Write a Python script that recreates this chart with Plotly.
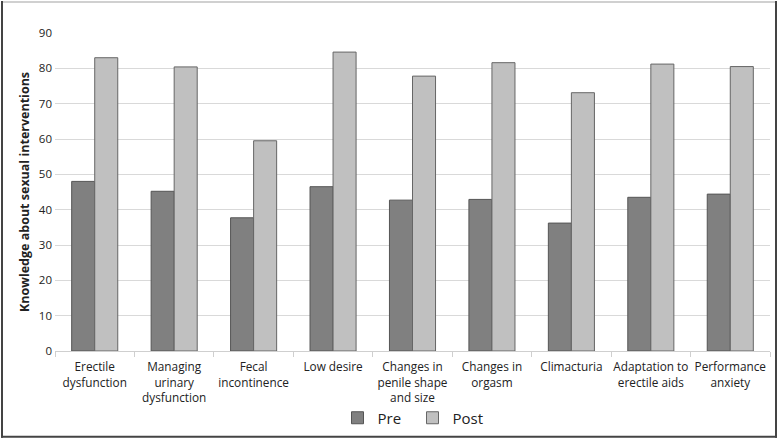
import plotly.graph_objects as go

categories = ["Erectile<br>dysfunction", "Managing<br>urinary<br>dysfunction", "Fecal<br>incontinence",
              "Low desire", "Changes in<br>penile shape<br>and size", "Changes in<br>orgasm",
              "Climacturia", "Adaptation to<br>erectile aids", "Performance<br>anxiety"]
pre = [48.0, 45.2, 37.7, 46.5, 42.7, 42.9, 36.2, 43.5, 44.4]
post = [83.0, 80.4, 59.5, 84.6, 77.8, 81.6, 73.1, 81.2, 80.5]
y_ticks = [0, 10, 20, 30, 40, 50, 60, 70, 80, 90]

W, H = 778, 441
ml, mr, mt, mb = 55, 8, 33, 89
pw, ph = W - ml - mr, H - mt - mb

def px(x):
    return (x - ml) / pw

def py(y):
    return (H - mb - y) / ph

fig = go.Figure()
fig.add_trace(go.Bar(name="Pre", x=categories, y=pre, marker=dict(color="#808080", line=dict(color="#555555", width=1))))
fig.add_trace(go.Bar(name="Post", x=categories, y=post, marker=dict(color="#c0c0c0", line=dict(color="#666666", width=1))))

fig.update_layout(
    width=W, height=H, margin=dict(l=ml, r=mr, t=mt, b=mb),
    paper_bgcolor="white", plot_bgcolor="white",
    barmode="group", bargap=0.42, bargroupgap=0,
    font=dict(family="Open Sans, Liberation Sans, sans-serif", color="#222222", size=11),
    legend=dict(orientation="h", x=0.5, xanchor="center", y=py(418), yanchor="middle",
                font=dict(size=15), itemwidth=30, traceorder="normal",
                entrywidth=30, entrywidthmode="pixels"),
    xaxis=dict(showline=True, linecolor="#cfcfcf", linewidth=1, ticks="outside", tickson="boundaries",
               ticklen=5, tickcolor="#cfcfcf", tickfont=dict(size=11.8), tickangle=0,
               ticklabelstandoff=5),
    yaxis=dict(range=[0, 90], tickvals=y_ticks, showgrid=True, gridcolor="#d9d9d9", gridwidth=1,
               zeroline=False, showline=False, tickfont=dict(size=11.5), ticks="", ticklen=0,
               ticklabelstandoff=2,
               title=dict(text="<b>Knowledge about sexual interventions</b>", font=dict(size=12.5), standoff=6)),
    shapes=[
        dict(type="line", xref="paper", yref="paper", x0=px(1), x1=px(777), y0=py(2), y1=py(2), line=dict(color="#d0d0d0", width=2)),
        dict(type="line", xref="paper", yref="paper", x0=px(2), x1=px(2), y0=py(1), y1=py(439), line=dict(color="#444444", width=2)),
        dict(type="line", xref="paper", yref="paper", x0=px(776), x1=px(776), y0=py(1), y1=py(439), line=dict(color="#444444", width=2)),
        dict(type="line", xref="paper", yref="paper", x0=px(1), x1=px(777), y0=py(438), y1=py(438), line=dict(color="#444444", width=2)),
    ],
)

fig.write_html("out.html", config={"displayModeBar": False},
               post_script="document.body.style.margin='0';document.body.style.padding='0';")
